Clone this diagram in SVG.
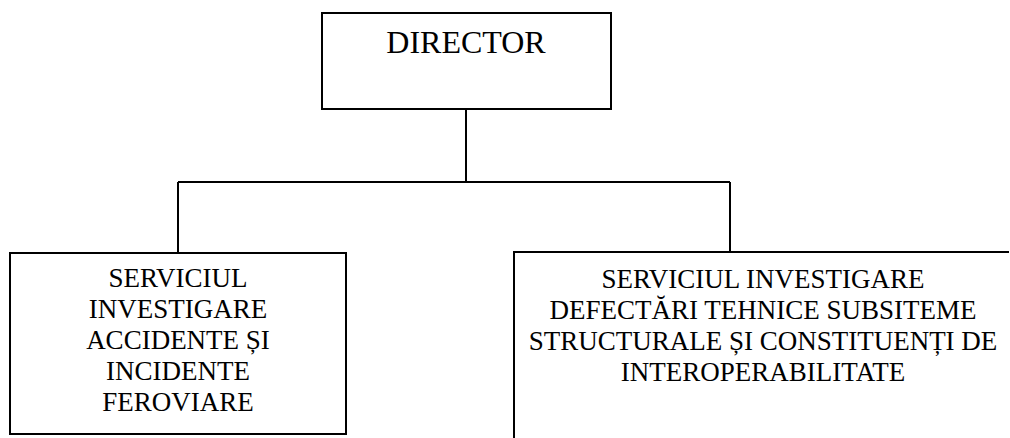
<svg xmlns="http://www.w3.org/2000/svg" width="1010" height="438" viewBox="0 0 1010 438">
<style>
.box{fill:#fff;stroke:#000;stroke-width:2}
.ln{fill:none;stroke:#000;stroke-width:2}
text{font-family:"Liberation Serif","Times New Roman",serif;fill:#000;text-anchor:middle}
.t{font-size:27px}
.d{font-size:32px}
</style>
<rect width="1010" height="438" fill="#fff"/>
<g id="connectors">
<path class="ln" d="M466 109V182M178 182H730M178 182V253M730 182V252"/>
</g>
<g id="director">
<rect class="box" x="322" y="13" width="289" height="96"/>
<text class="d" x="466" y="53">DIRECTOR</text>
</g>
<g id="serviciul-accidente">
<rect class="box" x="10" y="253" width="336" height="181"/>
<text class="t" x="178" y="287">SERVICIUL</text>
<text class="t" x="178" y="318">INVESTIGARE</text>
<text class="t" x="178" y="349">ACCIDENTE ȘI</text>
<text class="t" x="178" y="380">INCIDENTE</text>
<text class="t" x="178" y="411">FEROVIARE</text>
</g>
<g id="serviciul-defectari">
<path class="ln" d="M514 445V252H1009"/>
<text class="t" x="763" y="288">SERVICIUL INVESTIGARE</text>
<text class="t" x="763" y="319">DEFECTĂRI TEHNICE SUBSITEME</text>
<text class="t" x="763" y="350">STRUCTURALE ȘI CONSTITUENȚI DE</text>
<text class="t" x="763" y="381">INTEROPERABILITATE</text>
</g>
</svg>
